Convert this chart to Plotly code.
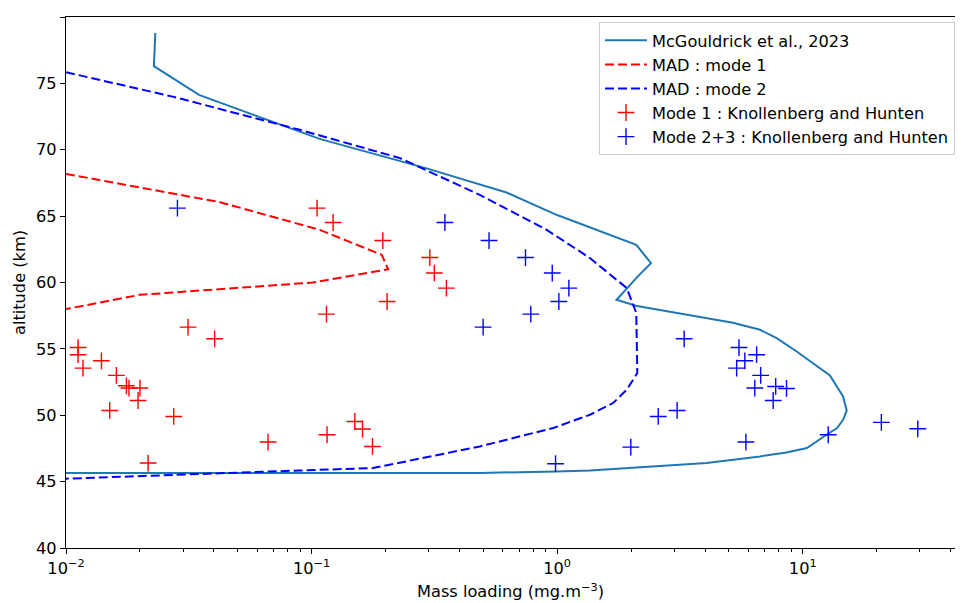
import plotly.graph_objects as go

# McGouldrick et al., 2023 profile
mcg_x = [0.0231, 0.0228, 0.0348, 0.1078, 0.294, 0.622, 0.994, 2.10, 2.41, 2.14, 1.745,
         2.09, 2.45, 5.20, 6.70, 7.83, 9.45, 12.9, 14.6, 15.1, 14.6, 13.8, 12.5, 10.4,
         8.59, 6.70, 4.06, 1.36, 0.994, 0.484, 0.005]
mcg_alt = [78.8, 76.3, 74.13, 70.82, 68.6, 66.78, 65.1, 62.84, 61.46, 60.5, 58.7,
           58.25, 58.02, 56.97, 56.44, 55.81, 54.80, 53.0, 51.42, 50.34, 49.66, 49.04, 48.53, 47.53,
           47.2, 46.9, 46.4, 45.84, 45.77, 45.65, 45.65]

# MAD mode 1
mad1_x = [0.01, 0.0424, 0.1078, 0.193, 0.205, 0.1014, 0.02, 0.01]
mad1_alt = [68.18, 66.05, 63.97, 62.09, 61.0, 60.0, 59.07, 58.0]

# MAD mode 2
mad2_x = [0.01, 0.0272, 0.0896, 0.229, 0.484, 0.906, 1.36, 1.92, 2.10, 2.12, 1.92,
          1.69, 1.36, 0.964, 0.484, 0.178, 0.0896, 0.0219, 0.01]
mad2_alt = [75.84, 74.0, 71.5, 69.37, 66.6, 63.97, 61.84, 59.58, 57.7, 53.18, 51.92,
            50.92, 50.04, 49.04, 47.65, 46.02, 45.84, 45.44, 45.22]

# Knollenberg and Hunten: mode 1
k1_x = [0.1053, 0.1224, 0.195, 0.303, 0.316, 0.354, 0.203, 0.115, 0.0314, 0.0403,
        0.0112, 0.0112, 0.01173, 0.01394, 0.01604, 0.01762, 0.01805, 0.02, 0.01965,
        0.01507, 0.02746, 0.0216, 0.0665, 0.1156, 0.15, 0.1612, 0.177]
k1_alt = [65.6, 64.52, 63.16, 61.88, 60.71, 59.58, 58.57, 57.62, 56.64, 55.76,
          55.1, 54.56, 53.55, 54.1, 53.0, 52.22, 52.05, 52.05, 51.11,
          50.36, 49.91, 46.4, 47.98, 48.53, 49.53, 48.96, 47.65]

# Knollenberg and Hunten: mode 2+3
k23_x = [0.02843, 0.349, 0.528, 0.743, 0.955, 1.116, 1.016, 0.781, 0.4996, 3.29,
         5.50, 5.81, 5.38, 6.49, 6.74, 6.38, 7.76, 8.59, 7.58, 3.08, 2.58, 20.9,
         29.4, 12.7, 5.87, 1.995, 0.985]
k23_alt = [65.6, 64.52, 63.16, 61.88, 60.71, 59.58, 58.57, 57.62, 56.64, 55.76,
           55.1, 54.1, 53.55, 54.56, 53.0, 52.05, 52.17, 52.02, 51.11, 50.36, 49.91, 49.46,
           48.98, 48.53, 47.98, 47.6, 46.35]

# axis ticks
x_tickvals = [0.01, 0.1, 1, 10]
x_ticktext = ["10<sup>−2</sup>", "10<sup>−1</sup>", "10<sup>0</sup>", "10<sup>1</sup>"]
x_minor_tickvals = [m * d for d in (0.01, 0.1, 1, 10) for m in range(2, 10) if m * d < 45]
y_tickvals = [40, 45, 50, 55, 60, 65, 70, 75, 80]

FONT = "DejaVu Sans"
FS = 16.2
DASH = "9px,4px"
fig = go.Figure()
fig.add_trace(go.Scatter(x=mcg_x, y=mcg_alt, mode="lines", name="McGouldrick et al., 2023",
                         line=dict(color="#1f77b4", width=2)))
fig.add_trace(go.Scatter(x=mad1_x, y=mad1_alt, mode="lines", name="MAD : mode 1",
                         line=dict(color="red", width=2, dash=DASH)))
fig.add_trace(go.Scatter(x=mad2_x, y=mad2_alt, mode="lines", name="MAD : mode 2",
                         line=dict(color="blue", width=2, dash=DASH)))
fig.add_trace(go.Scatter(x=k1_x, y=k1_alt, mode="markers", name="Mode 1 : Knollenberg and Hunten",
                         marker=dict(symbol="cross-thin", size=12, line=dict(color="red", width=1.4), color="red")))
fig.add_trace(go.Scatter(x=k23_x, y=k23_alt, mode="markers", name="Mode 2+3 : Knollenberg and Hunten",
                         marker=dict(symbol="cross-thin", size=12, line=dict(color="blue", width=1.4), color="blue")))

# The page body has an 8px margin, so the figure is sized to fit inside it.
fig.update_layout(
    width=947, height=595,
    margin=dict(l=58, r=0, t=9, b=55, autoexpand=False),
    paper_bgcolor="white", plot_bgcolor="white",
    font=dict(family=FONT, size=FS, color="black"),
    showlegend=True,
    legend=dict(x=1.0, y=0.99, xanchor="right", yanchor="top",
                bgcolor="rgba(255,255,255,0.8)", bordercolor="#cccccc", borderwidth=1,
                font=dict(family=FONT, size=FS), tracegroupgap=0, itemwidth=42),
)
fig.update_xaxes(type="log", range=[-2, 1.620], tickvals=x_tickvals, ticktext=x_ticktext,
                 showgrid=False, zeroline=False, showline=True, linecolor="black", linewidth=1.2,
                 mirror=True, ticks="outside", ticklen=5, tickwidth=1.2, tickcolor="black",
                 tickfont=dict(size=FS),
                 minor=dict(tickvals=x_minor_tickvals, ticks="outside", ticklen=3, tickwidth=0.8,
                            tickcolor="black", showgrid=False),
                 title=dict(text="Mass loading (mg.m<sup>−3</sup>)", font=dict(size=FS), standoff=9))
fig.update_yaxes(range=[40, 80], tickvals=y_tickvals, showgrid=False, zeroline=False, showline=True,
                 linecolor="black", linewidth=1.2, mirror=False, ticks="outside", ticklen=5,
                 tickwidth=1.2, tickcolor="black", tickfont=dict(size=FS),
                 title=dict(text="altitude (km)", font=dict(size=FS), standoff=6))

fig.write_html("out.html")
